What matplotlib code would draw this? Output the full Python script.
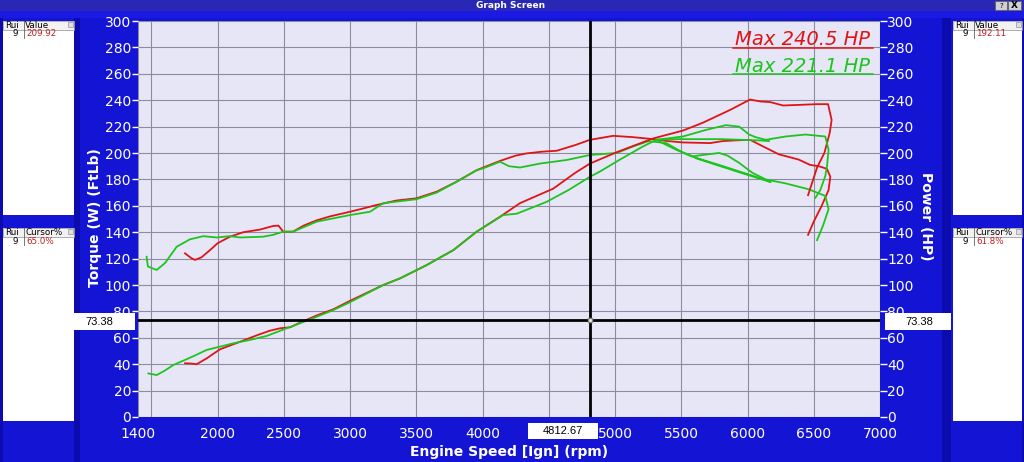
import matplotlib
matplotlib.use("Agg")
import matplotlib.pyplot as plt
from matplotlib.patches import Rectangle

# ---- run 1 (red) ----
red_torque_rpm = [1755, 1800, 1830, 1880, 1950, 2000, 2094, 2195, 2321, 2420, 2460, 2496, 2570, 2650,
                  2749, 2850, 3000, 3100, 3201, 3350, 3503, 3654, 3800, 3956, 4031, 4132, 4250, 4333,
                  4450, 4560, 4700, 4811, 4900, 4985, 5137, 5287, 5400, 5513, 5717, 5812, 5900, 6019,
                  6117, 6237, 6387, 6472, 6537, 6600, 6625, 6612, 6560, 6500, 6457]
red_torque = [124, 120.5, 119, 121, 127, 131.6, 136.6, 140, 142, 144.7, 145, 140.4, 140.4, 145,
              149, 152, 155.5, 158, 160.6, 164, 165.7, 170.7, 178, 187, 190, 194, 198, 199.7,
              201, 201.7, 206, 210, 211.5, 213, 212, 210.5, 209, 208, 207.5, 209, 209.5, 210,
              205, 199, 195, 191, 190, 188, 182, 172, 160, 148, 138]
red_power_rpm = [1755, 1800, 1843, 1918, 2019, 2170, 2300, 2396, 2472, 2550, 2623, 2750, 2874, 3000,
                 3126, 3251, 3377, 3577, 3781, 3956, 4132, 4283, 4534, 4700, 4811, 5015, 5287, 5513,
                 5664, 5868, 6019, 6100, 6170, 6268, 6400, 6525, 6608, 6635, 6620, 6580, 6525, 6457]
red_power = [40.7, 40.5, 40, 44.4, 51.3, 57, 62, 65.4, 67.2, 68, 71.5, 77, 81.6, 88,
             94, 100, 105, 115, 126.5, 140.4, 151.7, 162, 173, 185, 192, 200.7, 211, 217,
             223, 232.6, 240.5, 239, 238.6, 236, 236.5, 237, 237, 225, 215, 200, 189, 168]

# ---- run 2 (green) ----
green_torque_rpm = [1465, 1475, 1541, 1604, 1692, 1792, 1893, 1994, 2094, 2170, 2345, 2420, 2496, 2570,
                    2749, 2850, 3000, 3151, 3251, 3503, 3654, 3800, 3956, 4006, 4132, 4200, 4283, 4434,
                    4635, 4811, 5013, 5137, 5252, 5387, 5500, 5587, 5700, 5787, 5850, 5937, 6037, 6137,
                    6287, 6462, 6587, 6612, 6570, 6525]
green_torque = [121.4, 114, 111.4, 116.6, 129, 134.6, 137, 136, 137, 136, 136.6, 138, 140.4, 140.4,
                148, 150, 153, 155.5, 162, 165, 170, 178, 187, 188.4, 193.4, 190, 189, 192,
                194.7, 198.5, 200, 205, 209, 207.5, 201, 197.5, 199, 200, 198, 192.5, 185, 180,
                177, 172.5, 167.5, 157.5, 145, 134]
green_power_rpm = [1478, 1541, 1600, 1667, 1817, 1918, 2019, 2119, 2250, 2371, 2522, 2623, 2750, 2874,
                   3000, 3126, 3251, 3377, 3577, 3781, 3956, 4156, 4258, 4484, 4650, 4811, 4887, 5037,
                   5212, 5312, 5512, 5687, 5837, 5937, 6012, 6062, 6137, 6287, 6437, 6587, 6612, 6600,
                   6587, 6550, 6512]
green_power = [33, 31.8, 35, 39.4, 46, 50.8, 53.3, 55.8, 58.5, 61.4, 67.2, 71, 76, 81,
               87, 93.5, 100, 105, 115, 126.5, 140.4, 153, 154, 163, 172, 182, 186, 195,
               205, 210, 212.5, 217.5, 221.1, 220, 214, 212, 210, 212.5, 214, 212.5, 202.5, 190,
               182.5, 172, 166]

# second green pass (top end only)
green2_torque_rpm = [5330, 5450, 5575, 5800, 6000, 6137, 6175, 5950, 5750, 5612]
green2_torque = [209, 203, 197.5, 190.5, 184, 179.5, 178, 185, 191.5, 196]
green2_power_rpm = [5312, 5450, 5600, 5800, 5950, 6100, 6162]
green2_power = [210, 210.5, 210.5, 210.5, 210, 209.5, 209]

cursor_rpm = 4812.67
cursor_level = 73.38
max_labels = ["Max 240.5 HP", "Max 221.1 HP"]
panel_values = ["209.92", "192.11"]
panel_cursor = ["65.0%", "61.8%"]

# 4500 sits under the cursor readout box, so it is left blank
x_ticks = [1400, 1500, 2000, 2500, 3000, 3500, 4000, 4500, 5000, 5500, 6000, 6500, 7000]
x_labels = ["1400", "", "2000", "2500", "3000", "3500", "4000", "", "5000",
            "5500", "6000", "6500", "7000"]
y_ticks = list(range(0, 301, 20))

RED = "#e01414"
GREEN = "#1ec41e"
BLUE = "#1414d4"
DARK = "#0b0bae"

W, H = 1024, 462
fig = plt.figure(figsize=(W / 100, H / 100), dpi=100)
fig.patch.set_facecolor(BLUE)

# background window chrome, pixel coords (y down)
bg = fig.add_axes([0, 0, 1, 1])
bg.set_xlim(0, W)
bg.set_ylim(H, 0)
bg.axis("off")


def rect(a, x0, y0, x1, y1, fc, ec="none", z=1, lw=0.6):
    a.add_patch(Rectangle((x0, y0), x1 - x0, y1 - y0, facecolor=fc, edgecolor=ec, lw=lw, zorder=z))


rect(bg, 0, 0, W, 11, "#2828b4")
rect(bg, 0, 11, W, 18, "#1a1ae4")
bg.text(511, 5.5, "Graph Screen", color="white", fontsize=6.5, fontweight="bold",
        ha="center", va="center", zorder=3)
rect(bg, 995, 1, 1007, 10, "#d0d0d0", ec="#606060", z=2)
rect(bg, 1008, 1, 1021, 10, "#d0d0d0", ec="#606060", z=2)
bg.text(1001, 5.5, "?", fontsize=5, ha="center", va="center", zorder=3)
bg.text(1014.5, 5.5, "X", fontsize=6.5, fontweight="bold", ha="center", va="center", zorder=3)

rect(bg, 0, 18, 3, H, DARK)
rect(bg, 74, 18, 80, H, DARK)
rect(bg, 942, 18, 951, H, DARK)
rect(bg, 1022, 18, W, H, DARK)


def panel(x0, x1, y0, y1, head, val):
    rect(bg, x0, y0, x1, y1, "white", z=2)
    rect(bg, x0, y0, x1, y0 + 9, "#f2f2f2", ec="#909090", z=2, lw=0.5)
    bg.plot([x0 + 21, x0 + 21], [y0, y0 + 17], color="#606060", lw=0.6, zorder=3)
    rect(bg, x1 - 6, y0 + 1, x1 - 1, y0 + 6, "#e0e0e0", ec="#808080", z=3, lw=0.4)
    bg.text(x0 + 2, y0 + 4.5, "Rui", fontsize=6.3, va="center", zorder=4)
    bg.text(x0 + 22, y0 + 4.5, head, fontsize=6.3, va="center", zorder=4)
    bg.text(x0 + 15, y0 + 13, "9", fontsize=6.3, va="center", ha="right", zorder=4)
    bg.text(x0 + 23, y0 + 13, val, fontsize=6.3, va="center", color="#c02020", zorder=4)


panel(3, 74, 21, 215, "Value", panel_values[0])
panel(3, 74, 228, 421, "Cursor%", panel_cursor[0])
panel(953, 1022, 21, 215, "Value", panel_values[1])
panel(953, 1022, 228, 421, "Cursor%", panel_cursor[1])

# main plot
ax = fig.add_axes([138 / W, 1 - 417 / H, 742 / W, 396 / H])
ax.set_facecolor("#e6e6f7")
ax.set_xlim(1400, 7000)
ax.set_ylim(0, 300)
ax.set_xticks(x_ticks)
ax.set_xticklabels(x_labels)
ax.set_yticks(y_ticks)
ax.grid(True, color="#8c8c9e", lw=0.8)
ax.set_axisbelow(True)
for s in ax.spines.values():
    s.set_visible(False)
ax.tick_params(axis="y", colors="white", labelsize=10, length=4, width=1, pad=1)
ax.tick_params(axis="x", colors="white", labelsize=10, length=0, pad=7)

ax2 = ax.twinx()
ax2.set_ylim(0, 300)
ax2.set_yticks(y_ticks)
for s in ax2.spines.values():
    s.set_visible(False)
ax2.tick_params(axis="y", colors="white", labelsize=10, length=5, width=1, pad=0)

ax.plot(red_torque_rpm, red_torque, color=RED, lw=1.3)
ax.plot(green_torque_rpm, green_torque, color=GREEN, lw=1.3)
ax.plot(green2_torque_rpm, green2_torque, color=GREEN, lw=1.3)
ax2.plot(red_power_rpm, red_power, color=RED, lw=1.3)
ax2.plot(green_power_rpm, green_power, color=GREEN, lw=1.3)
ax2.plot(green2_power_rpm, green2_power, color=GREEN, lw=1.3)

ax2.axvline(cursor_rpm, color="black", lw=2, zorder=6)
ax2.axhline(cursor_level, color="black", lw=2, zorder=6)
ax2.plot([cursor_rpm], [cursor_level], marker="s", ms=3, mfc="white", mec="#808080", zorder=7)

for i, (lab, col) in enumerate(zip(max_labels, [RED, GREEN])):
    yb = 0.939 - i * 0.068
    ax2.text(0.9865, yb, lab, transform=ax2.transAxes, ha="right", va="baseline",
             fontsize=14, style="italic", color=col)
    ax2.plot([0.802, 0.991], [yb - 0.006, yb - 0.006], transform=ax2.transAxes,
             color=col, lw=1.1)

fig.text(509 / W, 1 - 452 / H, "Engine Speed [Ign] (rpm)", color="white", fontsize=10,
         fontweight="bold", ha="center", va="center")
fig.text(95 / W, 1 - 218 / H, "Torque (W) (FtLb)", color="white", fontsize=10,
         fontweight="bold", ha="center", va="center", rotation=90)
fig.text(926 / W, 1 - 216 / H, "Power (HP)", color="white", fontsize=10,
         fontweight="bold", ha="center", va="center", rotation=270)

# cursor readout boxes, placed from the cursor's pixel position
px, py = ax.transData.transform((cursor_rpm, cursor_level))
py = H - py
ov = fig.add_axes([0, 0, 1, 1])
ov.set_xlim(0, W)
ov.set_ylim(H, 0)
ov.axis("off")
ov.patch.set_alpha(0)
rect(ov, 74, py - 7, 135, py + 10, "white", z=2)
ov.text(85, py + 1.5, f"{cursor_level:.2f}", fontsize=8, va="center", ha="left",
        family="Liberation Sans", zorder=3)
rect(ov, 885, py - 7, 951, py + 10, "white", z=2)
ov.text(905, py + 1.5, f"{cursor_level:.2f}", fontsize=8, va="center", ha="left",
        family="Liberation Sans", zorder=3)
rect(ov, px - 62, 423, px + 8, 438.5, "white", z=2)
ov.text(px - 27, 431, f"{cursor_rpm:.2f}", fontsize=8, va="center", ha="center",
        family="Liberation Sans", zorder=3)

fig.savefig("out.png", dpi=100, facecolor=fig.get_facecolor())
